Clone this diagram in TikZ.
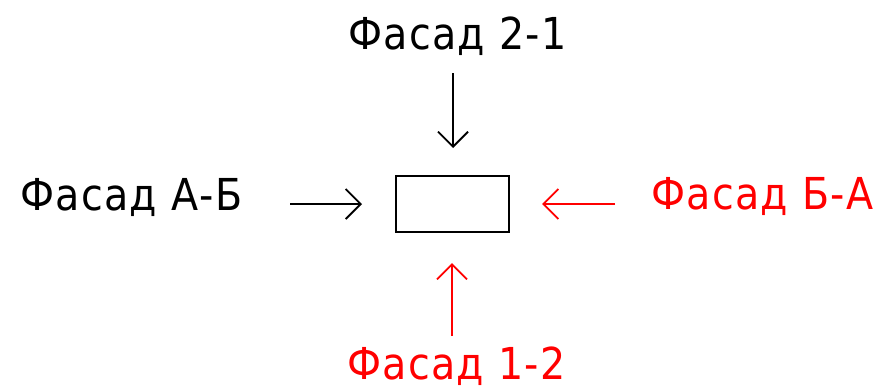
\documentclass[tikz,border=0pt]{standalone}
\usepackage{fontspec}
\setmainfont[LetterSpace=3]{DejaVu Sans Condensed}
\usetikzlibrary{arrows.meta}
\tikzset{
  lbl/.style={inner sep=0pt, anchor=base west, font=\fontsize{44}{44}\selectfont},
  dirarrow/.style={line width=1.8pt, -{Straight Barb[length=15pt,width=30pt,line width=1.8pt]}},
  facade/.style={draw, line width=1.8pt, minimum width=113pt, minimum height=56pt, inner sep=0pt}
}
\begin{document}
\begin{tikzpicture}[x=1pt,y=-1pt]
\useasboundingbox (0,0) rectangle (884,389);
\node[facade] (box) at (452.5,204) {};
\node[lbl] (t21) at (348,49) {Фасад 2-1};
\node[lbl] (tab) at (20,210) {Фасад А-Б};
\node[lbl, text=red] (tba) at (651,209) {Фасад Б-А};
\node[lbl, text=red] (t12) at (347,379) {Фасад 1-2};
\coordinate (a1) at (453,73);  \coordinate (b1) at (453,148);
\coordinate (a2) at (290,204); \coordinate (b2) at (362,204);
\coordinate (a3) at (615,204); \coordinate (b3) at (542,204);
\coordinate (a4) at (452,336); \coordinate (b4) at (452,263);
\draw[dirarrow] (a1) -- (b1);
\draw[dirarrow] (a2) -- (b2);
\draw[dirarrow, red] (a3) -- (b3);
\draw[dirarrow, red] (a4) -- (b4);
\end{tikzpicture}
\end{document}
